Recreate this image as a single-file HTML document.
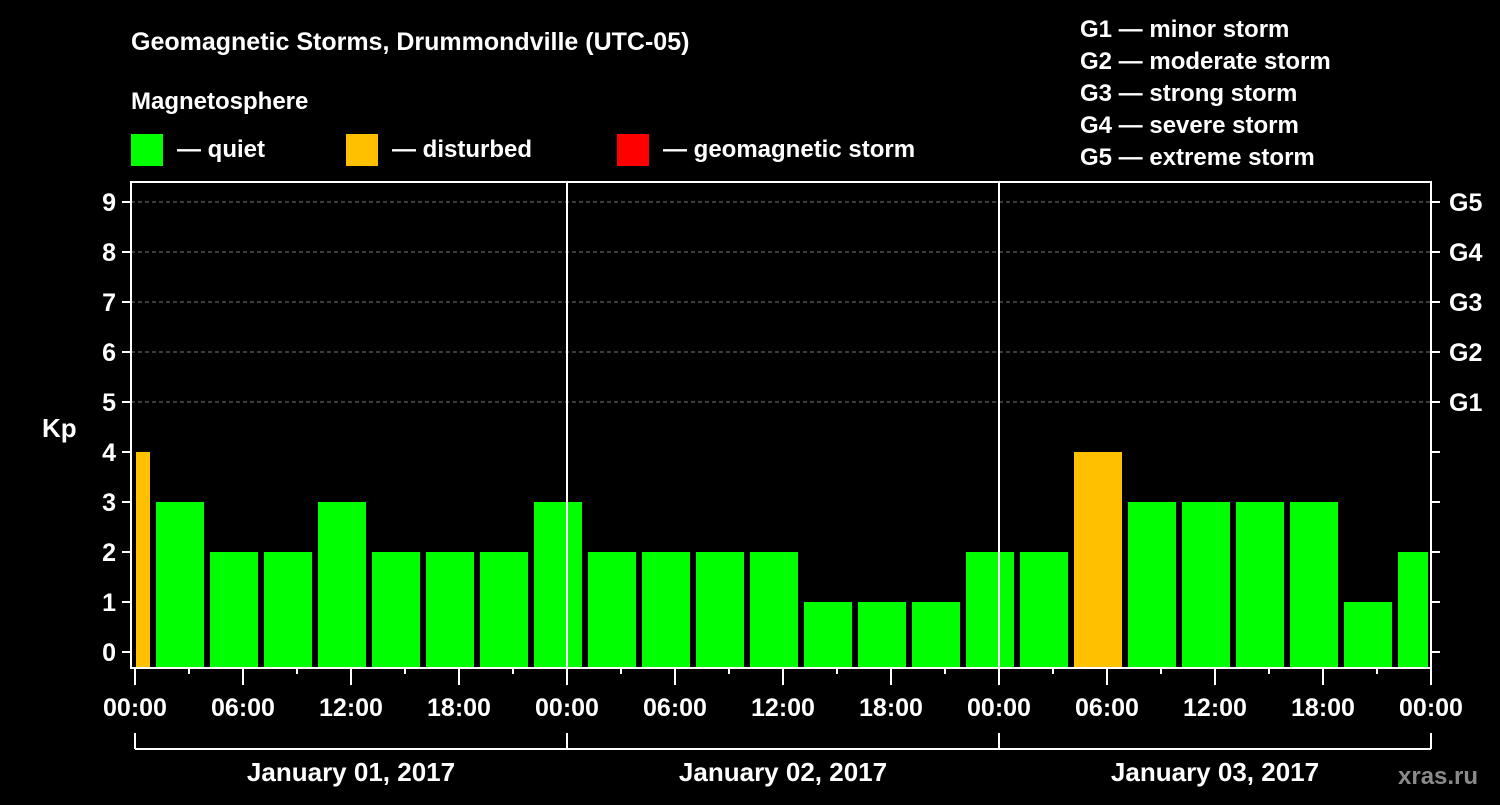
<!DOCTYPE html>
<html><head><meta charset="utf-8"><style>
body{margin:0;background:#000;width:1500px;height:800px;overflow:hidden}
svg text{font-family:"Liberation Sans",Arial,sans-serif;font-weight:bold;fill:#fff}
</style></head><body>
<svg id="c" width="1500" height="800" xmlns="http://www.w3.org/2000/svg">
<rect width="1500" height="800" fill="#000"/>
<text x="131" y="50" font-size="25">Geomagnetic Storms, Drummondville (UTC-05)</text>
<text x="131" y="109" font-size="24">Magnetosphere</text>
<g><rect x="131" y="134" width="32" height="32" fill="#00ff00"/><text x="177" y="157" font-size="24">— quiet</text></g>
<g><rect x="346" y="134" width="32" height="32" fill="#ffc000"/><text x="392" y="157" font-size="24">— disturbed</text></g>
<g><rect x="617" y="134" width="32" height="32" fill="#ff0000"/><text x="663" y="157" font-size="24">— geomagnetic storm</text></g>
<g font-size="24">
<text x="1080" y="37">G1 — minor storm</text><text x="1080" y="69">G2 — moderate storm</text><text x="1080" y="101">G3 — strong storm</text><text x="1080" y="133">G4 — severe storm</text><text x="1080" y="165">G5 — extreme storm</text></g>
<text x="42" y="437" font-size="26">Kp</text>
<text x="1398" y="784" font-size="24" fill="#888" style="fill:#8a8a8a">xras.ru</text>
<g id="g"></g>
</svg>
<script>
const kpValues=[4,3,2,2,3,2,2,2,3,2,2,2,2,1,1,1,2,2,4,3,3,3,3,1,2];
const barStartHours=[0,1,4,7,10,13,16,19,22,25,28,31,34,37,40,43,46,49,52,55,58,61,64,67,70];
const xTickLabels=["00:00","06:00","12:00","18:00","00:00","06:00","12:00","18:00","00:00","06:00","12:00","18:00","00:00"];
const dayLabels=["January 01, 2017","January 02, 2017","January 03, 2017"];
const yTicks=[0,1,2,3,4,5,6,7,8,9];
const gLabels={5:"G1",6:"G2",7:"G3",8:"G4",9:"G5"};
const X0=135,PXH=18,L=131,R=1431,T=182,B=668;
const x=h=>X0+h*PXH, y=v=>652-50*v;
const NS="http://www.w3.org/2000/svg",g=document.getElementById('g');
function mk(t,a,txt){const e=document.createElementNS(NS,t);for(const k in a)e.setAttribute(k,a[k]);if(txt!==undefined)e.textContent=txt;g.appendChild(e);return e;}
// grid
yTicks.filter(v=>v>=5).forEach(v=>{const e=mk('line',{x1:L,x2:R,y1:y(v),y2:y(v),stroke:'#777','stroke-dasharray':'4,3','stroke-width':1});

});
// bars
kpValues.forEach((v,i)=>{const h=barStartHours[i];const x1=i===0?x(h)+1:x(h)+3;const end=i+1<barStartHours.length?x(barStartHours[i+1])-3:x(72)-3;
const col=v>=5?'#ff0000':(v>=4?'#ffc000':'#00ff00');
const e=mk('rect',{x:x1,y:y(v),width:end-x1,height:B-y(v),fill:col});

});
// day separators
[24,48].forEach(h=>{const e=mk('line',{x1:x(h),x2:x(h),y1:T,y2:B,stroke:'#fff','stroke-width':2});

});
// frame
const fr=mk('rect',{x:L,y:T,width:R-L,height:B-T,fill:'none',stroke:'#fff','stroke-width':2});


// y ticks
yTicks.forEach(v=>{mk('line',{x1:L-9,x2:L,y1:y(v),y2:y(v),stroke:'#fff','stroke-width':2});mk('line',{x1:R,x2:R+9,y1:y(v),y2:y(v),stroke:'#fff','stroke-width':2});
const t=mk('text',{x:116,y:y(v)+9,'font-size':25,'text-anchor':'end'},String(v));


if(gLabels[v]){const s=mk('text',{x:1449,y:y(v)+9,'font-size':25},gLabels[v]);

}});
// x ticks
for(let h=0;h<=72;h+=3){const major=h%6===0;mk('line',{x1:x(h),x2:x(h),y1:B,y2:B+(major?17:6),stroke:'#fff','stroke-width':2});}
xTickLabels.forEach((s,i)=>{const t=mk('text',{x:x(i*6),y:716,'font-size':25,'text-anchor':'middle'},s);

});
// day brackets
mk('line',{x1:x(0),x2:x(72),y1:749,y2:749,stroke:'#fff','stroke-width':2});
[0,24,48,72].forEach(h=>mk('line',{x1:x(h),x2:x(h),y1:733,y2:749,stroke:'#fff','stroke-width':2}));
dayLabels.forEach((s,i)=>{const t=mk('text',{x:x(i*24+12),y:781,'font-size':26,'text-anchor':'middle'},s);

});
</script>
</body></html>
